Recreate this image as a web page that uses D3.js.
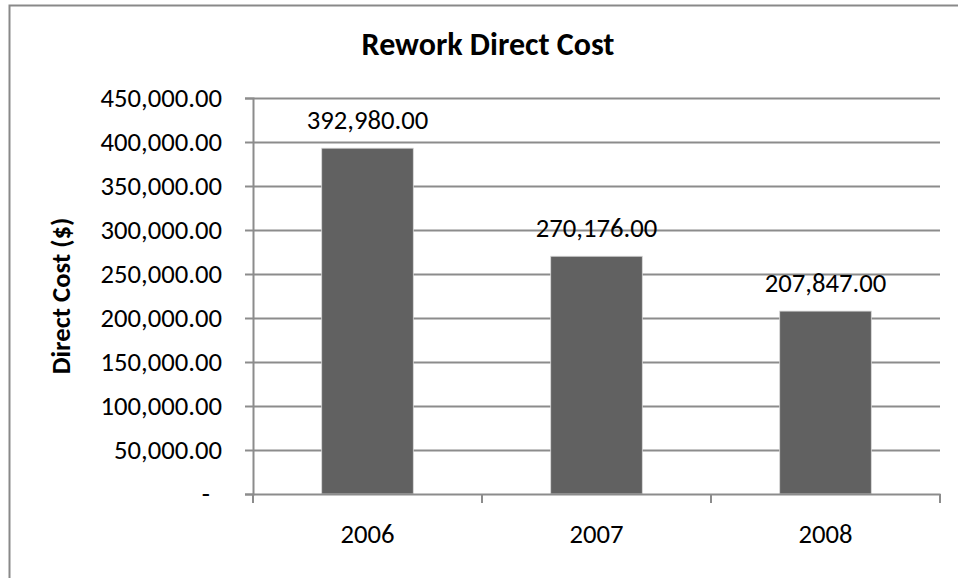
<!DOCTYPE html>
<html>
<head>
<meta charset="utf-8">
<script src="https://cdn.jsdelivr.net/npm/d3@7/dist/d3.min.js"></script>
<style>
  html, body { margin: 0; padding: 0; background: #fff; }
  svg { display: block; font-family: Carlito, Calibri, Lato, sans-serif; }
</style>
</head>
<body>
<svg id="chart" width="958" height="578"></svg>
<script>
const title = "Rework Direct Cost";
const yAxisTitle = "Direct Cost ($)";
const categories = ["2006", "2007", "2008"];
const values = [392980, 270176, 207847];
const yTicks = [0, 50000, 100000, 150000, 200000, 250000, 300000, 350000, 400000, 450000];

const svg = d3.select("#chart");
const m = { left: 253, right: 940, top: 98, bottom: 494 };
const FS = 26.67;
const FONT = "Carlito, Calibri, Lato, sans-serif";

// outer chart border (extends past the visible frame on right/bottom)
svg.append("rect")
  .attr("x", 9.5).attr("y", 5.5)
  .attr("width", 980).attr("height", 600)
  .attr("fill", "#fff").attr("stroke", "#898989").attr("stroke-width", 2);

const x = d3.scaleBand().domain(categories).range([m.left, m.right])
  .paddingInner(0.6).paddingOuter(0.3);
const y = d3.scaleLinear().domain([0, 450000]).range([m.bottom, m.top]);

const fmt = d3.format(",.2f");
const gridColor = "#8c8c8c";

// gridlines + y axis
const yAxis = d3.axisLeft(y).tickValues(yTicks).tickSize(8).tickPadding(23)
  .tickFormat(d => d === 0 ? "-" : fmt(d));
const gy = svg.append("g").attr("transform", `translate(${m.left},0)`).call(yAxis);
gy.select(".domain").attr("stroke", gridColor).attr("stroke-width", 2);
gy.selectAll(".tick line").attr("stroke", gridColor).attr("stroke-width", 2);
gy.selectAll(".tick text").attr("font-size", FS).attr("fill", "#000")
  .attr("font-family", FONT);
gy.selectAll(".tick").filter(d => d === 0).select("text").attr("dx", -12);
gy.selectAll(".tick").filter(d => d !== 0).append("line")
  .attr("x1", 0).attr("x2", m.right - m.left)
  .attr("stroke", gridColor).attr("stroke-width", 2);

// bars
svg.append("g").selectAll("rect").data(values).join("rect")
  .attr("x", (d, i) => x(categories[i]))
  .attr("width", x.bandwidth())
  .attr("y", d => y(d))
  .attr("height", d => y(0) - y(d))
  .attr("fill", "#616161")
  .attr("stroke", "#d9d9d9").attr("stroke-width", 0.8);

// x axis
const xb = d3.scaleBand().domain(categories).range([m.left, m.right]);
const xAxis = d3.axisBottom(xb).tickSize(0).tickPadding(30);
const gx = svg.append("g").attr("transform", `translate(0,${m.bottom})`).call(xAxis);
gx.select(".domain").attr("stroke", gridColor).attr("stroke-width", 2);
gx.selectAll(".tick text").attr("font-size", FS).attr("fill", "#000")
  .attr("font-family", FONT);
const bounds = [m.left].concat(categories.map(c => xb(c) + xb.bandwidth()));
gx.selectAll(".bound").data(bounds).join("line").attr("class", "bound")
  .attr("x1", d => d).attr("x2", d => d).attr("y1", 0).attr("y2", 9)
  .attr("stroke", gridColor).attr("stroke-width", 2);

// data labels
svg.append("g").selectAll("text").data(values).join("text")
  .attr("x", (d, i) => x(categories[i]) + x.bandwidth() / 2)
  .attr("y", d => y(d) - 19)
  .attr("text-anchor", "middle")
  .attr("font-size", FS).attr("fill", "#000")
  .text(d => fmt(d));

// title
svg.append("text").attr("x", 488).attr("y", 55)
  .attr("text-anchor", "middle").attr("font-size", 32).attr("font-weight", "bold")
  .text(title);

// y axis title
svg.append("text")
  .attr("transform", `translate(70,${(m.top + m.bottom) / 2}) rotate(-90)`)
  .attr("text-anchor", "middle").attr("font-size", FS).attr("font-weight", "bold")
  .text(yAxisTitle);
</script>
</body>
</html>
